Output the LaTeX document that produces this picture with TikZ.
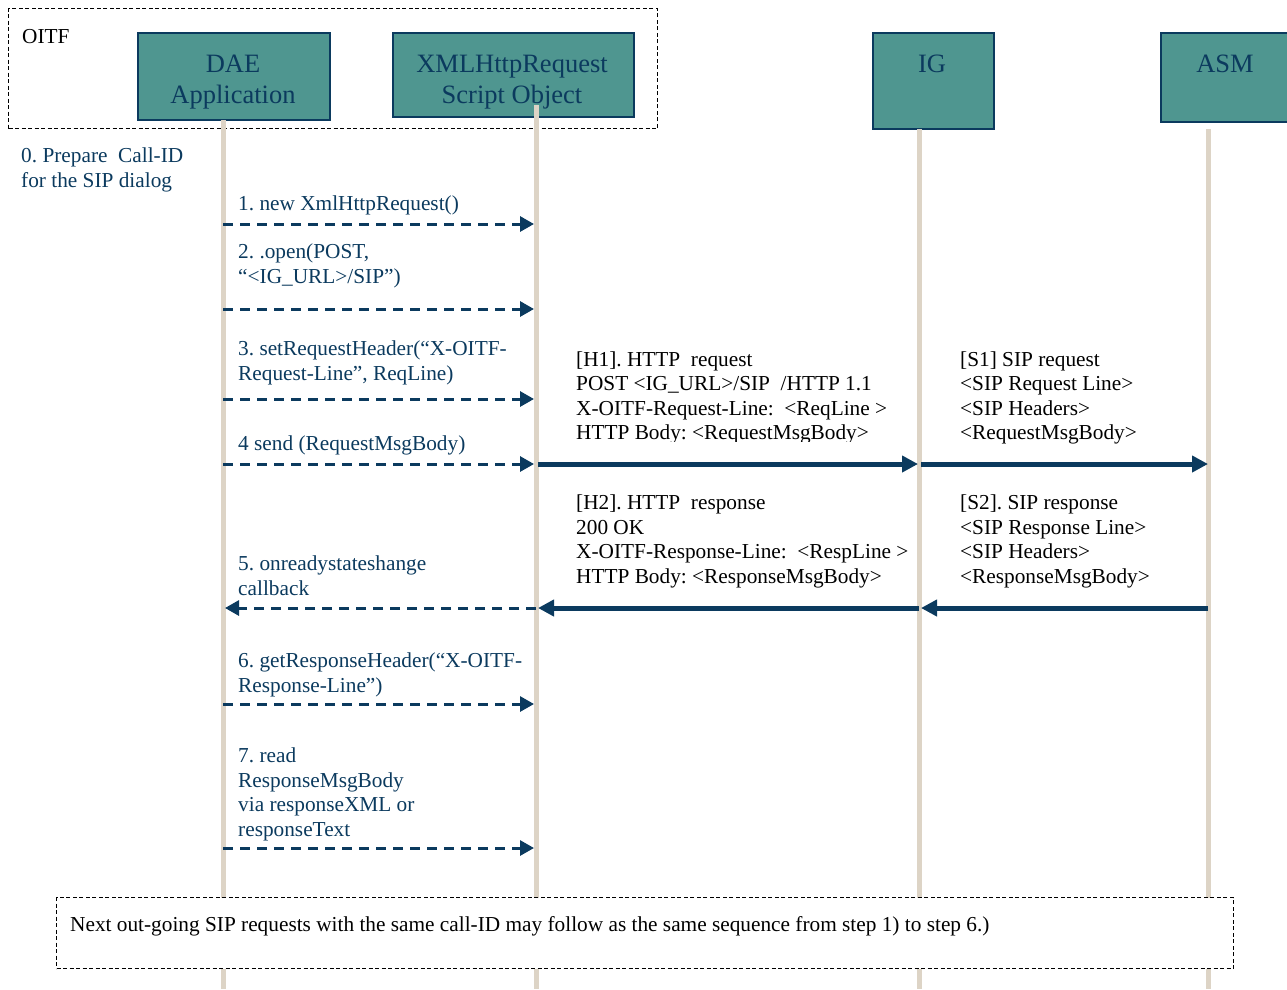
\documentclass[tikz,border=0pt]{standalone}
\usepackage{fontspec}
\setmainfont{Liberation Serif}
\usetikzlibrary{arrows.meta}
\frenchspacing

\definecolor{navy}{HTML}{0B3A5E}
\definecolor{boxteal}{HTML}{4F9690}
\definecolor{lifeline}{HTML}{DDD4C6}

\tikzset{
  actor/.style={draw=navy, line width=2pt, fill=boxteal, anchor=north west, inner sep=0pt},
  actortext/.style={anchor=base, align=center, inner sep=0pt, text=navy,
    font=\fontsize{26.5}{31}\selectfont},
  life/.style={draw=lifeline, line width=5pt},
  msgtext/.style={anchor=base west, align=left, inner sep=0pt, text=navy,
    font=\fontsize{21.3}{24.5}\selectfont},
  hdrtext/.style={msgtext, text=black},
  call/.style={draw=navy, line width=3pt, dash pattern=on 10pt off 7pt,
    -{Triangle[length=14pt,width=15pt]}, shorten >=2pt},
  wire/.style={draw=navy, line width=5pt, -{Triangle[length=16pt,width=16pt]}},
  group/.style={draw, line width=1.2pt, dash pattern=on 4pt off 2.5pt, anchor=north west, inner sep=0pt}
}

\begin{document}
\begin{tikzpicture}[x=1pt,y=-1pt]
  \useasboundingbox (0,0) rectangle (1287,989);

  \node[group, minimum width=649pt, minimum height=120pt] (oitf) at (8,8) {};
  \node[hdrtext] (oitfname) at (22,43) {OITF};

  \node[actor, minimum width=192pt, minimum height=87pt] (dae) at (137,32) {};
  \node[actor, minimum width=241pt, minimum height=84pt] (xhr) at (392,32) {};
  \node[actor, minimum width=121pt, minimum height=96pt] (ig) at (872,32) {};
  \node[actor, minimum width=140pt, minimum height=89pt] (asm) at (1160,32) {};
  \node[actortext] (daename) at (233,103) {DAE\\Application};
  \node[actortext] (xhrname) at (512,103) {XMLHttpRequest\\Script Object};
  \node[actortext] (igname) at (932,72) {IG};
  \node[actortext] (asmname) at (1225,72) {ASM};

  % life lines
  \coordinate (bottom) at (0,989);
  \coordinate (daeL) at (223,120);
  \coordinate (xhrL) at (536,105);
  \coordinate (igL) at (919,129);
  \coordinate (asmL) at (1208,129);
  \foreach \l in {daeL,xhrL,igL,asmL}
    \draw[life] (\l) -- (\l |- bottom);

  \foreach \y/\n in {224/m1,309/m2,399/m3,464/m4,608/m5,704/m6,848/m7}
    \coordinate (\n) at (0,\y);

  \node[msgtext] (t0) at (21,187) {0. Prepare\ \ Call-ID\\for the SIP dialog};

  \node[msgtext] (t1) at (238,210) {1. new XmlHttpRequest()};
  \draw[call] (daeL |- m1) -- (xhrL |- m1);

  \node[msgtext] (t2) at (238,283) {2. .open(POST,\\“<IG\_URL>/SIP”)};
  \draw[call] (daeL |- m2) -- (xhrL |- m2);

  \node[msgtext] (t3) at (238,380) {3. setRequestHeader(“X-OITF-\\Request-Line”, ReqLine)};
  \draw[call] (daeL |- m3) -- (xhrL |- m3);

  \node[msgtext] (t4) at (238,450) {4 send (RequestMsgBody)};
  \draw[call] (daeL |- m4) -- (xhrL |- m4);

  \begin{scope}
    \clip (560,340) rectangle (910,441);
    \node[hdrtext] (h1) at (576,439.5) {[H1]. HTTP\ \ request\\POST <IG\_URL>/SIP\ \ /HTTP 1.1\\X-OITF-Request-Line:\ \ <ReqLine >\\HTTP Body: <RequestMsgBody>};
  \end{scope}
  \draw[wire, shorten <=2pt, shorten >=1pt] (xhrL |- m4) -- (igL |- m4);

  \node[hdrtext] (s1) at (960,439.5) {[S1] SIP request\\<SIP Request Line>\\<SIP Headers>\\<RequestMsgBody>};
  \draw[wire, shorten <=2pt] (igL |- m4) -- (asmL |- m4);

  \node[hdrtext] (h2) at (576,583) {[H2]. HTTP\ \ response\\200 OK\\X-OITF-Response-Line:\ \ <RespLine >\\HTTP Body: <ResponseMsgBody>};
  \draw[wire, shorten >=2pt] (igL |- m5) -- (xhrL |- m5);

  \node[hdrtext] (s2) at (960,583) {[S2]. SIP response\\<SIP Response Line>\\<SIP Headers>\\<ResponseMsgBody>};
  \draw[wire, shorten >=2pt] (asmL |- m5) -- (igL |- m5);

  \node[msgtext] (t5) at (238,595) {5. onreadystateshange\\callback};
  \draw[call] (xhrL |- m5) -- (daeL |- m5);

  \node[msgtext] (t6) at (238,692) {6. getResponseHeader(“X-OITF-\\Response-Line”)};
  \draw[call] (daeL |- m6) -- (xhrL |- m6);

  \node[msgtext] (t7) at (238,836) {7. read\\ResponseMsgBody\\via responseXML or\\responseText};
  \draw[call] (daeL |- m7) -- (xhrL |- m7);

  \node[group, fill=white, minimum width=1177pt, minimum height=71pt] (note) at (56,897) {};
  \node[hdrtext] (notetext) at (70,931) {Next out-going SIP requests with the same call-ID may follow as the same sequence from step 1) to step 6.)};
\end{tikzpicture}
\end{document}
